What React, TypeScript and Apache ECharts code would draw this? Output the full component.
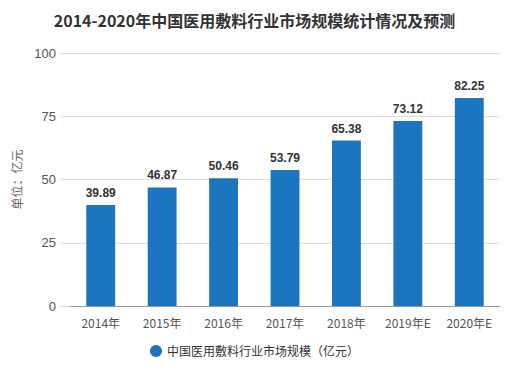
import React, { useEffect, useRef } from "react";
import * as echarts from "echarts";

const categories = ["2014年", "2015年", "2016年", "2017年", "2018年", "2019年E", "2020年E"];
const marketSize = [39.89, 46.87, 50.46, 53.79, 65.38, 73.12, 82.25];
const seriesName = "中国医用敷料行业市场规模（亿元）";
const titleText = "2014-2020年中国医用敷料行业市场规模统计情况及预测";

export default function App() {
  const ref = useRef<HTMLDivElement>(null);
  useEffect(() => {
    if (!ref.current) return;
    const chart = echarts.init(ref.current, null, { renderer: "svg" });
    chart.setOption({
      animation: false,
      backgroundColor: "#ffffff",
      title: {
        text: titleText,
        left: "center",
        top: 7,
        textStyle: { fontSize: 16, fontWeight: "bold", color: "#333", fontFamily: "Noto Sans CJK SC" },
      },
      legend: {
        bottom: 5,
        left: "center",
        icon: "circle",
        itemWidth: 12,
        itemHeight: 12,
        textStyle: { fontSize: 12, color: "#333", fontFamily: "Noto Sans CJK SC" },
        data: [seriesName],
      },
      grid: { left: 70, right: 9, top: 53, bottom: 61 },
      xAxis: {
        type: "category",
        data: categories,
        axisLine: { lineStyle: { color: "#999" } },
        axisTick: { alignWithLabel: true, length: 5, lineStyle: { color: "#999" } },
        axisLabel: { color: "#555", fontSize: 12, margin: 10, interval: 0, fontFamily: "Noto Sans CJK SC" },
      },
      yAxis: {
        type: "value",
        min: 0,
        max: 100,
        interval: 25,
        name: "单位：亿元",
        nameLocation: "middle",
        nameGap: 48,
        nameTextStyle: { color: "#666", fontSize: 12, fontFamily: "Noto Sans CJK SC" },
        axisLine: { show: false },
        axisTick: { show: true, length: 10, lineStyle: { color: "#ddd" } },
        axisLabel: { color: "#555", fontSize: 13, margin: 14, fontFamily: "Liberation Sans" },
        splitLine: { lineStyle: { color: "#ddd" } },
      },
      series: [
        {
          name: seriesName,
          type: "bar",
          data: marketSize,
          barWidth: "47%",
          itemStyle: { color: "#1c75bf" },
          label: {
            show: true,
            position: "top",
            distance: 6,
            color: "#333",
            fontSize: 12,
            fontWeight: "bold",
            fontFamily: "Liberation Sans",
          },
        },
      ],
    });
    return () => chart.dispose();
  }, []);
  return <div ref={ref} style={{ width: 509, height: 367, position: "absolute", left: 0, top: 0 }} />;
}
